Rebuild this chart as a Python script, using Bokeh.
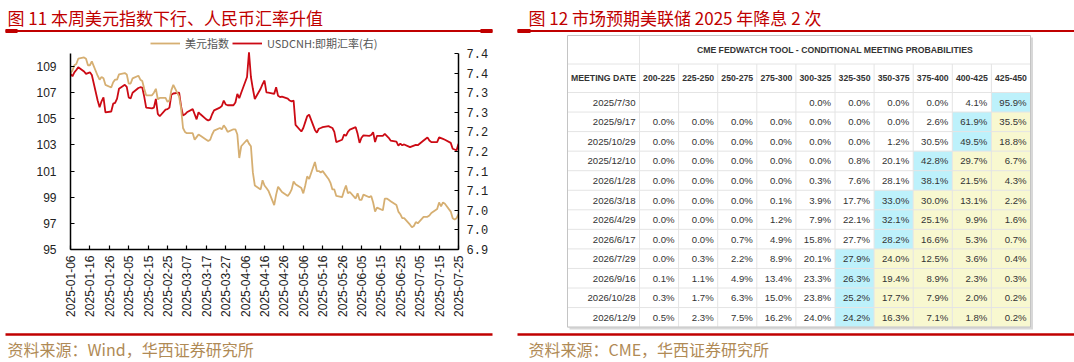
import math
import pandas as pd
from bokeh.plotting import figure
from bokeh.models import (ColumnDataSource, Range1d, LinearAxis, FixedTicker,
                          Legend, LegendItem)
from bokeh.layouts import column, row
from bokeh.embed import file_html
from bokeh.resources import INLINE
from bokeh.core.properties import value

# ---------------- data ----------------
title_left = "图 11 本周美元指数下行、人民币汇率升值"
title_right = "图 12 市场预期美联储 2025 年降息 2 次"
source_left = "资料来源：Wind，华西证券研究所"
source_right = "资料来源：CME，华西证券研究所"
series_names = ["美元指数", "USDCNH:即期汇率(右)"]

dxy_jan = [108.5, 108.7, 109.1, 109.2, 109.6, 109.7, 109.6, 109.1, 109.1, 109.4,
           108.3, 108.0, 108.2, 108.1, 107.6, 107.4, 107.8, 108.0, 108.0, 108.4]
dxy_feb = [108.5, 108.4, 107.7, 107.7, 108.1, 108.3, 108.0, 107.9, 107.3, 106.8,
           106.8, 107.0, 107.3, 106.5, 106.6, 106.6, 106.3, 106.4, 107.2, 107.6]
dxy_mar = [106.7, 105.8, 104.3, 104.0, 103.9, 103.9, 103.4, 103.6, 103.8, 103.7,
           103.4, 103.3, 103.4, 103.8, 104.1, 104.3, 104.2, 104.5, 104.3, 104.0, 104.2]
dxy_apr = [104.2, 103.8, 102.0, 102.9, 103.4, 103.1, 102.9, 100.9, 99.9, 99.6,
           100.3, 99.9, 99.7, 99.5, 98.4, 99.2, 99.8, 99.6, 99.4, 99.1, 99.3, 99.6]
dxy_may = [100.2, 100.0, 99.7, 99.3, 99.9, 100.6, 100.4, 101.7, 101.0, 101.0,
           100.9, 101.0, 100.4, 100.1, 99.6, 99.6, 99.1, 99.0, 99.5, 99.9, 99.3, 99.4]
dxy_jun = [98.9, 99.3, 98.8, 98.8, 99.2, 99.0, 99.1, 98.6, 97.9, 98.2,
           98.0, 98.9, 98.9, 98.8, 98.7, 98.4, 97.9, 97.7, 97.4, 97.4, 96.9]
dxy_jul = [96.7, 96.8, 97.1, 97.0, 97.5, 97.5, 97.5, 97.6, 97.8, 98.1,
           98.6, 98.3, 98.6, 98.5, 97.9, 97.4, 97.3, 97.4, 97.7]

cnh_jan = [7.348, 7.342, 7.352, 7.358, 7.365, 7.354, 7.348, 7.350, 7.352, 7.345,
           7.280, 7.263, 7.278, 7.288, 7.250, 7.252, 7.272, 7.274, 7.285, 7.310]
cnh_feb = [7.320, 7.315, 7.288, 7.285, 7.300, 7.312, 7.314, 7.313, 7.290, 7.262,
           7.260, 7.262, 7.284, 7.246, 7.240, 7.257, 7.258, 7.262, 7.295, 7.298]
cnh_mar = [7.300, 7.265, 7.242, 7.245, 7.250, 7.258, 7.245, 7.232, 7.250, 7.245,
           7.232, 7.229, 7.232, 7.245, 7.255, 7.262, 7.266, 7.280, 7.270, 7.268, 7.268]
cnh_apr = [7.275, 7.297, 7.286, 7.300, 7.340, 7.403, 7.340, 7.310, 7.284, 7.310,
           7.322, 7.331, 7.301, 7.300, 7.297, 7.314, 7.292, 7.289, 7.290, 7.285, 7.280, 7.278]
cnh_may = [7.280, 7.218, 7.201, 7.210, 7.225, 7.240, 7.244, 7.205, 7.198, 7.208,
           7.210, 7.212, 7.215, 7.212, 7.210, 7.200, 7.174, 7.180, 7.193, 7.190, 7.200, 7.206]
cnh_jun = [7.212, 7.195, 7.172, 7.185, 7.191, 7.190, 7.192, 7.199, 7.174, 7.190,
           7.190, 7.195, 7.190, 7.185, 7.178, 7.175, 7.165, 7.170, 7.166, 7.168, 7.161]
cnh_jul = [7.163, 7.165, 7.167, 7.166, 7.178, 7.182, 7.186, 7.178, 7.174, 7.174,
           7.186, 7.184, 7.182, 7.180, 7.172, 7.157, 7.155, 7.153, 7.170]

x_tick_labels = ["2025-01-06", "2025-01-16", "2025-01-26", "2025-02-05", "2025-02-15",
                 "2025-02-25", "2025-03-07", "2025-03-17", "2025-03-27", "2025-04-06",
                 "2025-04-16", "2025-04-26", "2025-05-06", "2025-05-16", "2025-05-26",
                 "2025-06-05", "2025-06-15", "2025-06-25", "2025-07-05", "2025-07-15",
                 "2025-07-25"]
left_ticks = [95, 97, 99, 101, 103, 105, 107, 109]
left_bounds = (95, 110)
right_tick_values = [6.90, 6.95, 7.00, 7.05, 7.10, 7.15, 7.20, 7.25, 7.30, 7.35, 7.40]
right_tick_labels = ["6.9", "7.0", "7.0", "7.1", "7.1", "7.2", "7.2", "7.3", "7.3", "7.4", "7.4"]
right_bounds = (6.9, 7.4)

table_title = "CME FEDWATCH TOOL - CONDITIONAL MEETING PROBABILITIES"
first_col_header = "MEETING DATE"
meeting_dates = ["2025/7/30", "2025/9/17", "2025/10/29", "2025/12/10", "2026/1/28",
                 "2026/3/18", "2026/4/29", "2026/6/17", "2026/7/29", "2026/9/16",
                 "2026/10/28", "2026/12/9"]
rate_ranges = ["200-225", "225-250", "250-275", "275-300", "300-325",
               "325-350", "350-375", "375-400", "400-425", "425-450"]
probs = [
    [None, None, None, None, 0.0, 0.0, 0.0, 0.0, 4.1, 95.9],
    [0.0, 0.0, 0.0, 0.0, 0.0, 0.0, 0.0, 2.6, 61.9, 35.5],
    [0.0, 0.0, 0.0, 0.0, 0.0, 0.0, 1.2, 30.5, 49.5, 18.8],
    [0.0, 0.0, 0.0, 0.0, 0.0, 0.8, 20.1, 42.8, 29.7, 6.7],
    [0.0, 0.0, 0.0, 0.0, 0.3, 7.6, 28.1, 38.1, 21.5, 4.3],
    [0.0, 0.0, 0.0, 0.1, 3.9, 17.7, 33.0, 30.0, 13.1, 2.2],
    [0.0, 0.0, 0.0, 1.2, 7.9, 22.1, 32.1, 25.1, 9.9, 1.6],
    [0.0, 0.0, 0.7, 4.9, 15.8, 27.7, 28.2, 16.6, 5.3, 0.7],
    [0.0, 0.3, 2.2, 8.9, 20.1, 27.9, 24.0, 12.5, 3.6, 0.4],
    [0.1, 1.1, 4.9, 13.4, 23.3, 26.3, 19.4, 8.9, 2.3, 0.3],
    [0.3, 1.7, 6.3, 15.0, 23.8, 25.2, 17.7, 7.9, 2.0, 0.2],
    [0.5, 2.3, 7.5, 16.2, 24.0, 24.2, 16.3, 7.1, 1.8, 0.2],
]

# ---------------- style / layout ----------------
RED = "#C00000"
LINE_RED = "#CC0A14"
GOLD = "#D6AF72"
SRC = "#B08A55"
CJK = "Noto Sans CJK SC"
SANS = "Liberation Sans"
CYAN = "#BDF1FB"
YELLOW = "#F8F8D0"
GRID = "#E4E4E4"

W, H = 1074, 362
TITLE_H, FOOT_H = 34, 32
MID_H = H - TITLE_H - FOOT_H          # 296
LEFT_W = 508
RIGHT_W = W - LEFT_W

# chart frame (page pixels)
FR_L, FR_R = 70, 458
FR_TOP, FR_AX_TOP, FR_BOT = 36, 53, 249


def canvas(w, h, x0, x1, y_bottom, y_top):
    f = figure(width=w, height=h, x_range=Range1d(x0, x1), y_range=Range1d(y_bottom, y_top),
               output_backend="svg", toolbar_location=None, min_border=0,
               x_axis_type=None, y_axis_type=None)
    f.outline_line_color = None
    f.grid.visible = False
    return f


# ---------------- title strip ----------------
tf = canvas(W, TITLE_H, 0, W, TITLE_H, 0)
tf.text(x=[7, 528], y=[16.5, 16.5], text=[title_left, title_right],
        text_font=value(CJK), text_font_size="17px", text_color=RED,
        text_baseline="middle", text_align="left")
tf.segment(x0=[5, 517], x1=[492, W], y0=[30.5, 30.5], y1=[30.5, 30.5],
           line_color=RED, line_width=2)
tf.segment(x0=[5, 480, 517], x1=[17, 492, 530], y0=[30.5] * 3, y1=[30.5] * 3,
           line_color=RED, line_width=4)

# ---------------- footer strip ----------------
ff = canvas(W, FOOT_H, 0, W, H, H - FOOT_H)
ff.segment(x0=[5, 517], x1=[492, W], y0=[334, 334], y1=[334, 334],
           line_color=RED, line_width=2.5)
ff.text(x=[7, 528], y=[348, 348], text=[source_left, source_right],
        text_font=value(CJK), text_font_size="16px", text_color=SRC,
        text_baseline="middle", text_align="left")

# ---------------- line chart ----------------
dates = pd.bdate_range("2025-01-06", "2025-07-25")
dxy = dxy_jan + dxy_feb + dxy_mar + dxy_apr + dxy_may + dxy_jun + dxy_jul
cnh = cnh_jan + cnh_feb + cnh_mar + cnh_apr + cnh_may + cnh_jun + cnh_jul
src = ColumnDataSource(dict(date=dates, dxy=dxy, cnh=cnh))

x_ticks = [pd.Timestamp(s).value / 1e6 for s in x_tick_labels]

# extend ranges so the frame also holds the legend strip above the axes' top
ext = (FR_BOT - FR_TOP) / (FR_BOT - FR_AX_TOP)
left_top = left_bounds[0] + (left_bounds[1] - left_bounds[0]) * ext
right_top = right_bounds[0] + (right_bounds[1] - right_bounds[0]) * ext

p = figure(width=LEFT_W, height=MID_H, x_axis_type="datetime",
           x_range=Range1d(x_ticks[0], x_ticks[-1]),
           y_range=Range1d(left_bounds[0], left_top), output_backend="svg", toolbar_location=None,
           min_border_left=FR_L, min_border_right=LEFT_W - FR_R,
           min_border_top=FR_TOP - TITLE_H, min_border_bottom=TITLE_H + MID_H - FR_BOT)
p.outline_line_color = None
p.grid.visible = False
p.extra_y_ranges = {"cnh": Range1d(right_bounds[0], right_top)}

r_red = p.line("date", "cnh", source=src, y_range_name="cnh", line_color=LINE_RED, line_width=1.8)
r_gold = p.line("date", "dxy", source=src, line_color=GOLD, line_width=1.8)

right_axis = LinearAxis(y_range_name="cnh", ticker=FixedTicker(ticks=right_tick_values),
                        major_label_overrides=dict(zip(right_tick_values, right_tick_labels)))
p.add_layout(right_axis, "right")

for ax in [p.yaxis[0], right_axis]:
    ax.axis_line_color = "#000000"
    ax.axis_line_width = 1.5
    ax.major_tick_line_color = "#000000"
    ax.major_tick_line_width = 1.2
    ax.major_tick_in = 4
    ax.major_tick_out = 0
    ax.minor_tick_line_color = None
    ax.major_label_text_color = "#222222"
    ax.major_label_text_font_size = "12px"

p.yaxis[0].ticker = FixedTicker(ticks=left_ticks)
p.yaxis[0].bounds = left_bounds
p.yaxis[0].major_label_text_font = SANS
p.yaxis[0].major_label_standoff = 14
right_axis.bounds = right_bounds
right_axis.major_label_text_font = "Liberation Mono"
right_axis.major_label_standoff = 8

xa = p.xaxis[0]
xa.ticker = FixedTicker(ticks=x_ticks)
xa.major_label_overrides = dict(zip(x_ticks, x_tick_labels))
xa.major_label_orientation = math.pi / 2
xa.axis_line_color = "#000000"
xa.axis_line_width = 1.5
xa.major_tick_line_color = "#000000"
xa.major_tick_line_width = 1.2
xa.major_tick_in = 4
xa.major_tick_out = 0
xa.minor_tick_line_color = None
xa.major_label_text_font = SANS
xa.major_label_text_font_size = "12px"
xa.major_label_text_color = "#222222"
xa.major_label_standoff = 6

legend = Legend(items=[LegendItem(label=series_names[0], renderers=[r_gold]),
                       LegendItem(label=series_names[1], renderers=[r_red])],
                orientation="horizontal", location=(150 - FR_L, FR_BOT - FR_TOP - 15),
                glyph_width=30, glyph_height=12, label_height=12,
                label_standoff=5, spacing=3, padding=0, margin=0,
                label_text_font=CJK, label_text_font_size="11px",
                label_text_color="#555555", border_line_color=None,
                background_fill_alpha=0)
p.add_layout(legend, "center")

# ---------------- table ----------------
tb = canvas(RIGHT_W, MID_H, LEFT_W, W, TITLE_H + MID_H, TITLE_H)

T_X0, DATE_W, COL_W = 567, 72, 39.1
T_Y0, HEAD1_H, HEAD2_H, ROW_H = 35, 28.5, 28.5, 19.55
n_rows, n_cols = len(meeting_dates), len(rate_ranges)
T_X1 = T_X0 + DATE_W + n_cols * COL_W
HY1 = T_Y0 + HEAD1_H
HY2 = HY1 + HEAD2_H
T_Y1 = HY2 + n_rows * ROW_H

tb.quad(left=[T_X0 + 2], right=[T_X1 + 2.5], top=[T_Y0 + 2], bottom=[T_Y1 + 2.5],
        fill_color="#D8D8D8", line_color=None)
tb.quad(left=[T_X0], right=[T_X1], top=[T_Y0], bottom=[T_Y1],
        fill_color="#FFFFFF", line_color=None)

cl, cr, ct, cb, cc = [], [], [], [], []
for i, rowvals in enumerate(probs):
    vals = [v if v is not None else -1 for v in rowvals]
    k = vals.index(max(vals))
    for j in range(k, n_cols):
        cl.append(T_X0 + DATE_W + j * COL_W)
        cr.append(T_X0 + DATE_W + (j + 1) * COL_W)
        ct.append(HY2 + i * ROW_H)
        cb.append(HY2 + (i + 1) * ROW_H)
        cc.append(CYAN if j == k else YELLOW)
tb.quad(left=cl, right=cr, top=ct, bottom=cb, fill_color=cc, line_color=None)

hx0 = [T_X0] * (n_rows + 2)
hx1 = [T_X1] * (n_rows + 2)
hy = [HY1, HY2] + [HY2 + (i + 1) * ROW_H for i in range(n_rows)]
tb.segment(x0=hx0, x1=hx1, y0=hy, y1=hy, line_color=GRID, line_width=1)
vx = [T_X0 + DATE_W + j * COL_W for j in range(1, n_cols)]
tb.segment(x0=vx, x1=vx, y0=[HY1] * len(vx), y1=[T_Y1] * len(vx), line_color=GRID, line_width=1)
tb.segment(x0=[T_X0 + DATE_W], x1=[T_X0 + DATE_W], y0=[T_Y0], y1=[T_Y1], line_color=GRID, line_width=1)
tb.quad(left=[T_X0], right=[T_X1], top=[T_Y0], bottom=[T_Y1],
        fill_color=None, line_color="#C4C4C4", line_width=1)

tb.text(x=[T_X0 + DATE_W + n_cols * COL_W / 2], y=[(T_Y0 + HY1) / 2], text=[table_title],
        text_font=value(SANS), text_font_style="bold", text_font_size="8.7px",
        text_color="#333333", text_align="center", text_baseline="middle")
hx = [T_X0 + DATE_W / 2] + [T_X0 + DATE_W + (j + 0.5) * COL_W for j in range(n_cols)]
tb.text(x=hx, y=[(HY1 + HY2) / 2] * len(hx), text=[first_col_header] + rate_ranges,
        text_font=value(SANS), text_font_style="bold", text_font_size="8.7px",
        text_color="#333333", text_align="center", text_baseline="middle")

bx, by, bt = [], [], []
for i, d in enumerate(meeting_dates):
    yc = HY2 + (i + 0.5) * ROW_H
    bx.append(T_X0 + DATE_W - 4)
    by.append(yc)
    bt.append(d)
    for j, v in enumerate(probs[i]):
        if v is None:
            continue
        bx.append(T_X0 + DATE_W + (j + 1) * COL_W - 4)
        by.append(yc)
        bt.append(f"{v:.1f}%")
tb.text(x=bx, y=by, text=bt, text_font=value(SANS), text_font_size="9.6px",
        text_color="#333333", text_align="right", text_baseline="middle")

# wrap each plot of the middle row so Bokeh does not align their frames
layout = column(tf, row(column(p), column(tb)), ff)
open("out.html", "w").write(file_html(layout, INLINE))
